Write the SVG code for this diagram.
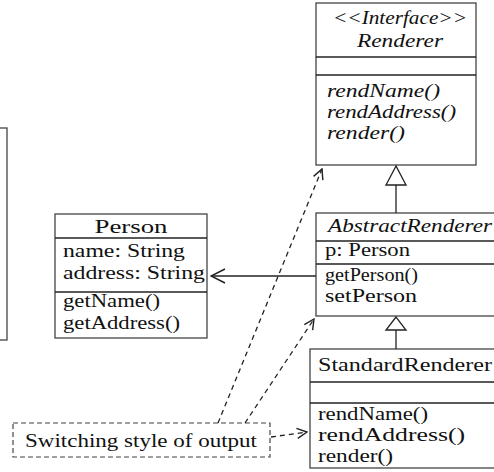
<svg xmlns="http://www.w3.org/2000/svg" width="494" height="472" viewBox="0 0 494 472" font-family="Liberation Serif, serif">
  <style>
    .box { fill: #fff; stroke: #444; stroke-width: 1.3; }
    .sep { stroke: #222; stroke-width: 1.3; }
    .line { stroke: #222; stroke-width: 1.3; fill: none; }
    .dash { stroke: #222; stroke-width: 1.3; fill: none; stroke-dasharray: 5 4; }
    .tri { fill: #fff; stroke: #222; stroke-width: 1.3; }
  </style>
  <defs>
    <marker id="open" viewBox="0 0 12 12" refX="11" refY="6" markerWidth="12" markerHeight="12" markerUnits="userSpaceOnUse" orient="auto">
      <path d="M1,1 L11,6 L1,11" fill="none" stroke="#222" stroke-width="1.4"/>
    </marker>
    <marker id="openBig" viewBox="0 0 16 16" refX="15" refY="8" markerWidth="16" markerHeight="16" markerUnits="userSpaceOnUse" orient="auto">
      <path d="M1,1 L15,8 L1,15" fill="none" stroke="#222" stroke-width="1.5"/>
    </marker>
  </defs>

  <rect width="494" height="472" fill="#fff"/>

  <!-- class cut off by the left edge -->
  <g id="hidden-class">
    <rect class="box" x="-4" y="128" width="11" height="212"/>
  </g>

  <g id="person">
    <rect class="box" x="55" y="214" width="152" height="124"/>
    <line class="sep" x1="55" y1="238" x2="207" y2="238"/>
    <line class="sep" x1="55" y1="292" x2="207" y2="292"/>
    <text style="font-family:'Liberation Serif',serif;font-size:19px" fill="#111" text-anchor="middle" x="131" y="233" textLength="73" lengthAdjust="spacingAndGlyphs">Person</text>
    <text style="font-family:'Liberation Serif',serif;font-size:19px" fill="#111" x="63" y="257" textLength="122" lengthAdjust="spacingAndGlyphs">name: String</text>
    <text style="font-family:'Liberation Serif',serif;font-size:19px" fill="#111" x="63" y="279" textLength="142" lengthAdjust="spacingAndGlyphs">address: String</text>
    <text style="font-family:'Liberation Serif',serif;font-size:19px" fill="#111" x="63" y="307" textLength="97" lengthAdjust="spacingAndGlyphs">getName()</text>
    <text style="font-family:'Liberation Serif',serif;font-size:19px" fill="#111" x="63" y="329" textLength="117" lengthAdjust="spacingAndGlyphs">getAddress()</text>
  </g>

  <g id="renderer">
    <rect class="box" x="316" y="3" width="160" height="162"/>
    <line class="sep" x1="316" y1="57" x2="476" y2="57"/>
    <line class="sep" x1="316" y1="75" x2="476" y2="75"/>
    <text style="font-family:'Liberation Serif',serif;font-size:19px;font-style:italic" fill="#111" text-anchor="middle" x="400" y="24" textLength="134" lengthAdjust="spacingAndGlyphs">&lt;&lt;Interface&gt;&gt;</text>
    <text style="font-family:'Liberation Serif',serif;font-size:19px;font-style:italic" fill="#111" text-anchor="middle" x="400" y="47" textLength="86" lengthAdjust="spacingAndGlyphs">Renderer</text>
    <text style="font-family:'Liberation Serif',serif;font-size:19px;font-style:italic" fill="#111" x="327" y="97" textLength="113" lengthAdjust="spacingAndGlyphs">rendName()</text>
    <text style="font-family:'Liberation Serif',serif;font-size:19px;font-style:italic" fill="#111" x="327" y="118" textLength="129" lengthAdjust="spacingAndGlyphs">rendAddress()</text>
    <text style="font-family:'Liberation Serif',serif;font-size:19px;font-style:italic" fill="#111" x="327" y="139" textLength="78" lengthAdjust="spacingAndGlyphs">render()</text>
  </g>

  <g id="abstract-renderer">
    <rect class="box" x="316" y="213" width="190" height="103"/>
    <line class="sep" x1="316" y1="241" x2="494" y2="241"/>
    <line class="sep" x1="316" y1="264" x2="494" y2="264"/>
    <text style="font-family:'Liberation Serif',serif;font-size:19px;font-style:italic" fill="#111" x="328" y="232" textLength="164" lengthAdjust="spacingAndGlyphs">AbstractRenderer</text>
    <text style="font-family:'Liberation Serif',serif;font-size:19px" fill="#111" x="325" y="256" textLength="85" lengthAdjust="spacingAndGlyphs">p: Person</text>
    <text style="font-family:'Liberation Serif',serif;font-size:19px" fill="#111" x="325" y="281" textLength="93" lengthAdjust="spacingAndGlyphs">getPerson()</text>
    <text style="font-family:'Liberation Serif',serif;font-size:19px" fill="#111" x="325" y="302" textLength="92" lengthAdjust="spacingAndGlyphs">setPerson</text>
  </g>

  <g id="standard-renderer">
    <rect class="box" x="310" y="349" width="190" height="119"/>
    <line class="sep" x1="310" y1="382" x2="494" y2="382"/>
    <line class="sep" x1="310" y1="403" x2="494" y2="403"/>
    <text style="font-family:'Liberation Serif',serif;font-size:19px" fill="#111" x="318" y="371" textLength="174" lengthAdjust="spacingAndGlyphs">StandardRenderer</text>
    <text style="font-family:'Liberation Serif',serif;font-size:19px" fill="#111" x="318" y="420" textLength="110" lengthAdjust="spacingAndGlyphs">rendName()</text>
    <text style="font-family:'Liberation Serif',serif;font-size:19px" fill="#111" x="318" y="441" textLength="147" lengthAdjust="spacingAndGlyphs">rendAddress()</text>
    <text style="font-family:'Liberation Serif',serif;font-size:19px" fill="#111" x="318" y="462" textLength="75" lengthAdjust="spacingAndGlyphs">render()</text>
  </g>

  <g id="note">
    <rect x="13" y="423" width="257" height="34" fill="#fff" stroke="#444" stroke-width="1.2" stroke-dasharray="5 3"/>
    <text style="font-family:'Liberation Serif',serif;font-size:19px" fill="#111" x="25" y="447" textLength="232" lengthAdjust="spacingAndGlyphs">Switching style of output</text>
  </g>

  <g id="connectors">
    <!-- AbstractRenderer realizes Renderer -->
    <line class="line" x1="396" y1="213" x2="396" y2="185"/>
    <polygon class="tri" points="396,166 386,185 406,185"/>
    <!-- StandardRenderer extends AbstractRenderer -->
    <line class="line" x1="396" y1="349" x2="396" y2="330"/>
    <polygon class="tri" points="396,317 386,330 406,330"/>
    <!-- AbstractRenderer holds a Person -->
    <line class="line" x1="316" y1="276" x2="211" y2="276" marker-end="url(#openBig)"/>
    <!-- note attachments -->
    <line class="dash" x1="218" y1="423" x2="322" y2="169" marker-end="url(#open)"/>
    <line class="dash" x1="245" y1="423" x2="314" y2="319" marker-end="url(#open)"/>
    <line class="dash" x1="271" y1="437" x2="307" y2="432" marker-end="url(#open)"/>
  </g>
</svg>
